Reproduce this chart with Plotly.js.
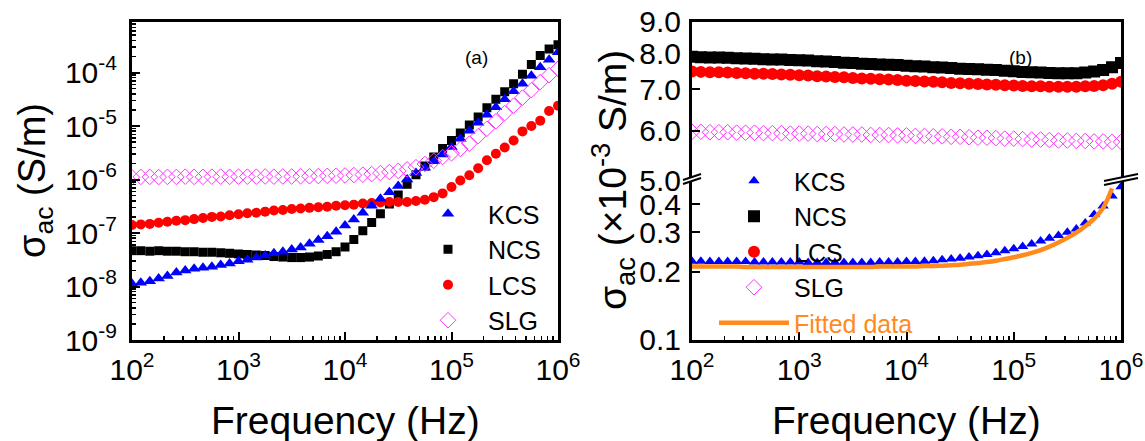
<!DOCTYPE html>
<html>
<head>
<meta charset="utf-8">
<script src="https://cdn.plot.ly/plotly-3.0.1.min.js"></script>
<style>html,body{margin:0;padding:0;background:#fff;}#chart{width:1145px;height:441px;}</style>
</head>
<body>
<div id="chart"></div>
<script>
// ---------- data (frequency in Hz) ----------
const freq = [100, 121, 147, 178, 215, 261, 316, 383, 464, 562, 681, 825,
  1000, 1210, 1470, 1780, 2150, 2610, 3160, 3830, 4640, 5620, 6810, 8250,
  10000, 12100, 14700, 17800, 21500, 26100, 31600, 38300, 46400, 56200, 68100, 82500,
  100000, 121000, 147000, 178000, 215000, 261000, 316000, 383000, 464000, 562000, 681000, 825000,
  1000000];

// panel (a): sigma_ac in S/m
const kcsA = [1.12e-8,1.17e-8,1.26e-8,1.41e-8,1.58e-8,1.82e-8,2.00e-8,2.14e-8,2.24e-8,2.34e-8,2.51e-8,2.69e-8,
  2.95e-8,3.16e-8,3.47e-8,3.80e-8,4.17e-8,4.47e-8,4.90e-8,5.37e-8,6.31e-8,7.41e-8,8.71e-8,1.05e-7,
  1.38e-7,1.78e-7,2.40e-7,3.24e-7,4.37e-7,5.75e-7,7.59e-7,1.00e-6,1.32e-6,1.66e-6,2.19e-6,2.95e-6,
  4.07e-6,5.75e-6,8.13e-6,1.15e-5,1.62e-5,2.24e-5,3.16e-5,4.47e-5,6.17e-5,8.71e-5,1.26e-4,1.74e-4,
  2.40e-4];
const ncsA = [4.68e-8,4.68e-8,4.57e-8,4.68e-8,4.57e-8,4.57e-8,4.47e-8,4.47e-8,4.37e-8,4.37e-8,4.27e-8,4.17e-8,
  4.07e-8,3.98e-8,3.89e-8,3.80e-8,3.63e-8,3.55e-8,3.47e-8,3.47e-8,3.55e-8,3.72e-8,3.98e-8,4.47e-8,
  5.50e-8,7.59e-8,1.10e-7,1.58e-7,2.29e-7,3.47e-7,5.13e-7,8.13e-7,1.23e-6,1.78e-6,2.63e-6,3.80e-6,
  5.37e-6,7.41e-6,1.05e-5,1.48e-5,2.19e-5,3.16e-5,4.37e-5,6.17e-5,9.33e-5,1.41e-4,2.09e-4,2.75e-4,
  3.31e-4];
const lcsA = [1.41e-7,1.45e-7,1.48e-7,1.55e-7,1.62e-7,1.70e-7,1.74e-7,1.82e-7,1.91e-7,2.00e-7,2.04e-7,2.14e-7,
  2.24e-7,2.34e-7,2.40e-7,2.51e-7,2.63e-7,2.69e-7,2.82e-7,2.88e-7,2.95e-7,3.02e-7,3.09e-7,3.24e-7,
  3.31e-7,3.39e-7,3.55e-7,3.63e-7,3.72e-7,3.80e-7,3.80e-7,3.80e-7,3.98e-7,4.17e-7,4.68e-7,5.50e-7,
  7.24e-7,9.55e-7,1.20e-6,1.62e-6,2.29e-6,3.02e-6,3.98e-6,5.37e-6,7.94e-6,1.00e-5,1.26e-5,1.91e-5,
  2.40e-5];
const slgA = [1.10e-6,1.12e-6,1.12e-6,1.11e-6,1.12e-6,1.12e-6,1.13e-6,1.12e-6,1.12e-6,1.13e-6,1.13e-6,1.12e-6,
  1.13e-6,1.13e-6,1.13e-6,1.14e-6,1.13e-6,1.14e-6,1.14e-6,1.15e-6,1.15e-6,1.16e-6,1.17e-6,1.18e-6,
  1.19e-6,1.21e-6,1.23e-6,1.26e-6,1.32e-6,1.38e-6,1.45e-6,1.55e-6,1.70e-6,1.95e-6,2.24e-6,2.63e-6,
  3.09e-6,3.72e-6,4.68e-6,6.46e-6,8.91e-6,1.23e-5,1.74e-5,2.40e-5,3.39e-5,4.68e-5,6.61e-5,8.91e-5,
  1.17e-4];

// panel (b): sigma_ac in 1e-3 S/m
const kcsB = [0.223,0.223,0.222,0.222,0.222,0.222,0.222,0.221,0.221,0.221,0.221,0.221,
  0.221,0.220,0.220,0.220,0.220,0.220,0.220,0.220,0.220,0.221,0.221,0.221,
  0.222,0.222,0.223,0.224,0.226,0.228,0.230,0.233,0.236,0.239,0.243,0.248,
  0.253,0.259,0.266,0.274,0.282,0.290,0.300,0.310,0.330,0.360,0.392,0.435,
  0.478];
const ncsB = [7.90,7.89,7.88,7.88,7.87,7.86,7.85,7.84,7.83,7.82,7.82,7.81,
  7.80,7.79,7.77,7.76,7.75,7.73,7.72,7.70,7.69,7.68,7.67,7.66,
  7.64,7.63,7.62,7.60,7.59,7.58,7.56,7.55,7.54,7.53,7.52,7.50,
  7.49,7.47,7.46,7.45,7.44,7.43,7.43,7.43,7.45,7.48,7.52,7.60,
  7.72];
const lcsB = [7.48,7.47,7.46,7.46,7.45,7.44,7.43,7.42,7.42,7.41,7.40,7.39,
  7.38,7.37,7.35,7.34,7.33,7.32,7.30,7.29,7.28,7.27,7.26,7.25,
  7.23,7.22,7.21,7.20,7.19,7.17,7.16,7.15,7.14,7.13,7.12,7.11,
  7.10,7.09,7.08,7.08,7.07,7.07,7.07,7.07,7.08,7.09,7.11,7.15,
  7.20];
const slgB = [5.98,5.98,5.97,5.97,5.97,5.96,5.96,5.96,5.95,5.95,5.95,5.94,
  5.94,5.94,5.93,5.93,5.93,5.92,5.92,5.92,5.91,5.91,5.91,5.90,
  5.90,5.89,5.89,5.88,5.88,5.87,5.87,5.86,5.85,5.85,5.84,5.83,
  5.83,5.82,5.81,5.81,5.80,5.79,5.79,5.78,5.78,5.77,5.77,5.76,
  5.76];
const fitB = [0.211,0.211,0.211,0.211,0.211,0.211,0.210,0.210,0.210,0.210,0.210,0.210,
  0.210,0.210,0.210,0.210,0.210,0.210,0.210,0.210,0.210,0.211,0.211,0.211,
  0.211,0.211,0.212,0.212,0.213,0.214,0.215,0.217,0.219,0.221,0.224,0.228,
  0.232,0.237,0.243,0.250,0.259,0.270,0.283,0.299,0.319,0.345,0.385,0.470];

// tick labels
const xTickVals = [1e2, 1e3, 1e4, 1e5, 1e6];
const xTickText = ['10<sup>2</sup>','10<sup>3</sup>','10<sup>4</sup>','10<sup>5</sup>','10<sup>6</sup>'];
const yaTickVals = [1e-9, 1e-8, 1e-7, 1e-6, 1e-5, 1e-4];
const yaTickText = ['10<sup>-9</sup>','10<sup>-8</sup>','10<sup>-7</sup>','10<sup>-6</sup>','10<sup>-5</sup>','10<sup>-4</sup>'];
const ybLowVals = [0.1, 0.2, 0.3, 0.4];
const ybLowText = ['0.1','0.2','0.3','0.4'];
const ybUpVals = [5, 6, 7, 8, 9];
const ybUpText = ['5.0','6.0','7.0','8.0','9.0'];
const seriesNames = ['KCS','NCS','LCS','SLG'];

// ---------- styling ----------
const W = 1145, H = 441;
const FONT = 'Liberation Sans, Arial, sans-serif';
const BLUE = '#0000ff', BLACK = '#000000', RED = '#ff0000', PINK = '#ff33ff', ORANGE = '#ff8a1e';
const px = v => v / W, py = v => 1 - v / H;

function minorVals(lo, hi) {
  const out = [];
  for (let e = lo; e < hi; e++) for (let m = 2; m <= 9; m++) out.push(m * Math.pow(10, e));
  return out;
}

const axBase = {
  type: 'log', showline: true, linewidth: 3, linecolor: '#000', showgrid: false, zeroline: false,
  ticks: 'inside', ticklen: 8, tickwidth: 2, tickcolor: '#000',
  tickfont: {family: FONT, size: 30, color: '#000'}, tickmode: 'array'
};

const traces = [
  // panel (a)
  {x: freq, y: ncsA, name: seriesNames[1], mode: 'markers', xaxis: 'x', yaxis: 'y', legend: 'legend', legendrank: 2,
   marker: {symbol: 'square', size: 9, color: BLACK}},
  {x: freq, y: lcsA, name: seriesNames[2], mode: 'markers', xaxis: 'x', yaxis: 'y', legend: 'legend', legendrank: 3,
   marker: {symbol: 'circle', size: 10, color: RED}},
  {x: freq, y: kcsA, name: seriesNames[0], mode: 'markers', xaxis: 'x', yaxis: 'y', legend: 'legend', legendrank: 1,
   marker: {symbol: 'triangle-up', size: 11, color: BLUE}},
  {x: freq, y: slgA, name: seriesNames[3], mode: 'markers', xaxis: 'x', yaxis: 'y', legend: 'legend', legendrank: 4,
   marker: {symbol: 'diamond-open', size: 12, color: PINK, line: {width: 1}}},
  // panel (b) upper
  {x: freq, y: ncsB, name: seriesNames[1], mode: 'markers', xaxis: 'x3', yaxis: 'y3', legend: 'legend2', legendrank: 2,
   marker: {symbol: 'square', size: 12, color: BLACK}},
  {x: freq, y: lcsB, name: seriesNames[2], mode: 'markers', xaxis: 'x3', yaxis: 'y3', legend: 'legend2', legendrank: 3,
   marker: {symbol: 'circle', size: 12, color: RED}},
  {x: freq, y: slgB, name: seriesNames[3], mode: 'markers', xaxis: 'x3', yaxis: 'y3', legend: 'legend2', legendrank: 4,
   marker: {symbol: 'diamond-open', size: 12, color: PINK, line: {width: 1}}},
  // panel (b) lower
  {x: freq, y: kcsB, name: seriesNames[0], mode: 'markers', xaxis: 'x2', yaxis: 'y2', legend: 'legend2', legendrank: 1,
   marker: {symbol: 'triangle-up', size: 10, color: BLUE}},
  {x: freq.slice(0, fitB.length), y: fitB, name: '<span style="color:' + ORANGE + '">Fitted data</span>', mode: 'lines',
   xaxis: 'x2', yaxis: 'y2', legend: 'legend2', legendrank: 5,
   line: {color: ORANGE, width: 4.5, shape: 'spline'}}
];

const yTop = py(21.7), yBot = py(340), yBreak = py(180);

const layout = {
  width: W, height: H, margin: {l: 0, r: 0, t: 0, b: 0},
  paper_bgcolor: '#fff', plot_bgcolor: 'rgba(0,0,0,0)',
  font: {family: FONT, color: '#000'},
  showlegend: true,
  xaxis: Object.assign({}, axBase, {
    domain: [px(132), px(558)], anchor: 'y', range: [2, 6], mirror: true,
    tickvals: xTickVals, ticktext: xTickText, ticklabelstandoff: 1,
    minor: {tickmode: 'array', tickvals: minorVals(2, 6), ticks: 'inside', ticklen: 4, tickwidth: 1.5, tickcolor: '#000'}
  }),
  yaxis: Object.assign({}, axBase, {
    domain: [yBot, yTop], anchor: 'x', range: [-9, -3.05], mirror: true,
    tickvals: yaTickVals, ticktext: yaTickText, ticklabelstandoff: 6,
    minor: {tickmode: 'array', tickvals: minorVals(-9, -3), ticks: 'inside', ticklen: 4, tickwidth: 1.5, tickcolor: '#000'}
  }),
  xaxis2: Object.assign({}, axBase, {
    domain: [px(692), px(1121)], anchor: 'y2', range: [2, 6], mirror: false,
    tickvals: xTickVals, ticktext: xTickText, ticklabelstandoff: 1,
    minor: {tickmode: 'array', tickvals: minorVals(2, 6), ticks: 'inside', ticklen: 4, tickwidth: 1.5, tickcolor: '#000'}
  }),
  xaxis3: Object.assign({}, axBase, {
    domain: [px(692), px(1121)], anchor: 'y3', side: 'top', range: [2, 6], mirror: false,
    ticks: '', showticklabels: false, tickvals: xTickVals
  }),
  yaxis2: Object.assign({}, axBase, {
    domain: [py(339.5), yBreak], anchor: 'x2', range: [-1, Math.log10(0.512)], mirror: true,
    tickvals: ybLowVals, ticktext: ybLowText, ticklabelstandoff: 2
  }),
  yaxis3: Object.assign({}, axBase, {
    domain: [yBreak, yTop], anchor: 'x3', range: [Math.log10(5), Math.log10(9)], mirror: true,
    tickvals: ybUpVals, ticktext: ybUpText, ticklabelstandoff: 2
  }),
  legend: {x: px(408), y: py(191), xanchor: 'left', yanchor: 'top', bgcolor: 'rgba(0,0,0,0)',
    font: {family: FONT, size: 25, color: '#000'}, itemwidth: 70, tracegroupgap: 0, traceorder: 'normal'},
  legend2: {x: px(714), y: py(158), xanchor: 'left', yanchor: 'top', bgcolor: 'rgba(0,0,0,0)',
    font: {family: FONT, size: 25, color: '#000'}, itemwidth: 70, tracegroupgap: 0, traceorder: 'normal'},
  annotations: [
    {text: 'Frequency (Hz)', x: px(345), y: py(420), xref: 'paper', yref: 'paper', showarrow: false,
     xanchor: 'center', yanchor: 'middle', font: {family: FONT, size: 39, color: '#000'}},
    {text: 'Frequency (Hz)', x: px(906), y: py(420), xref: 'paper', yref: 'paper', showarrow: false,
     xanchor: 'center', yanchor: 'middle', font: {family: FONT, size: 39, color: '#000'}},
    {text: 'σ<sub>ac</sub> (S/m)', x: px(35), y: py(181), xref: 'paper', yref: 'paper', showarrow: false,
     textangle: -90, xanchor: 'center', yanchor: 'middle', font: {family: FONT, size: 38, color: '#000'}},
    {text: 'σ<sub>ac</sub> (×10<sup>-3</sup> S/m)', x: px(613), y: py(180), xref: 'paper', yref: 'paper', showarrow: false,
     textangle: -90, xanchor: 'center', yanchor: 'middle', font: {family: FONT, size: 39, color: '#000'}},
    {text: '(a)', x: px(476), y: py(57), xref: 'paper', yref: 'paper', showarrow: false,
     xanchor: 'center', yanchor: 'middle', font: {family: FONT, size: 19, color: '#000'}},
    {text: '(b)', x: px(1020), y: py(57), xref: 'paper', yref: 'paper', showarrow: false,
     xanchor: 'center', yanchor: 'middle', font: {family: FONT, size: 19, color: '#000'}}
  ],
  shapes: []
};

// axis-break marks (decoration)
function breakMark(x0, x1, yl0, yl1, gap) {
  const P = (x, y) => px(x) + ',' + py(y);
  layout.shapes.push({type: 'path', xref: 'paper', yref: 'paper', layer: 'above',
    path: 'M' + P(x0, yl0) + ' L' + P(x1, yl1) + ' L' + P(x1, yl1 - gap) + ' L' + P(x0, yl0 - gap) + ' Z',
    fillcolor: '#fff', line: {width: 0}});
  layout.shapes.push({type: 'line', xref: 'paper', yref: 'paper', layer: 'above',
    x0: px(x0), y0: py(yl0), x1: px(x1), y1: py(yl1), line: {color: '#000', width: 2}});
  layout.shapes.push({type: 'line', xref: 'paper', yref: 'paper', layer: 'above',
    x0: px(x0), y0: py(yl0 - gap), x1: px(x1), y1: py(yl1 - gap), line: {color: '#000', width: 2}});
}
breakMark(683, 701, 184, 178, 4);
breakMark(1104, 1138, 185, 178, 4);

Plotly.newPlot('chart', traces, layout, {staticPlot: true, displayModeBar: false});
</script>
</body>
</html>
